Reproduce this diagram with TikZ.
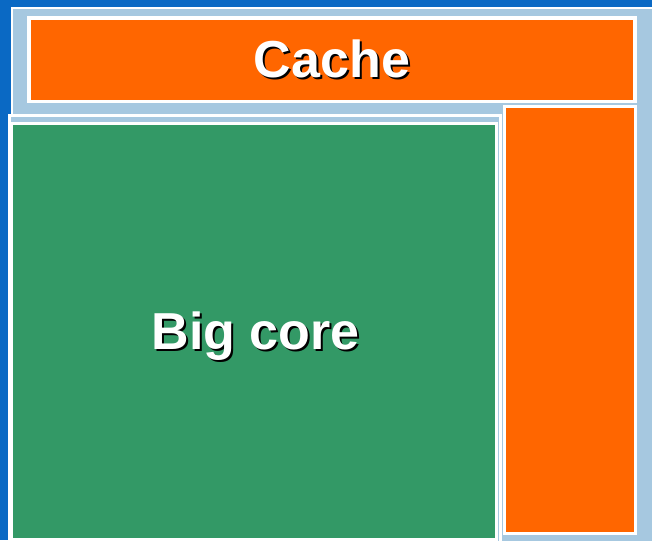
\documentclass[tikz,border=0pt]{standalone}
\usepackage{fontspec}
\setmainfont{Liberation Sans}
\usepackage{tikz}
\usetikzlibrary{positioning}

\definecolor{slideblue}{RGB}{10,105,196}
\definecolor{paleblue}{RGB}{166,200,224}
\definecolor{cacheorange}{RGB}{255,102,0}
\definecolor{coregreen}{RGB}{51,153,102}

\begin{document}
\begin{tikzpicture}[x=1pt, y=-1pt,
  block/.style={draw=white, rectangle, inner sep=0pt},
  bigtext/.style={font=\fontsize{52}{62}\selectfont\bfseries, inner sep=0pt, anchor=base},
  shadowtext/.style={bigtext, text=black, xshift=2pt, yshift=-2pt}]
\useasboundingbox (0,0) rectangle (652,540);
\clip (0,0) rectangle (652,540);

% Slide background
\fill [slideblue] (0,0) rectangle (652,540);
\node [block, line width=2pt, fill=paleblue, minimum width=658pt, minimum height=552pt]
	(panel) at (341,284) {};

% Cache
\node [block, line width=3.5pt, fill=cacheorange, minimum width=606pt, minimum height=83.7pt]
	(cache) at (332,59.85) {};
\node [block, line width=3pt, fill=cacheorange, minimum width=130.5pt, minimum height=426.5pt]
	(cachestrip) at (569.75,320.25) {};
\coordinate (cachebase) at (332,78);
\node [shadowtext] (cacheshadow) at (cachebase) {Cache};
\node [bigtext, text=white] (cachelabel) at (cachebase) {Cache};

% Big core
\node [block, line width=3pt, fill=paleblue, minimum width=491pt, minimum height=432.5pt]
	(coreframe) at (255,331.75) {};
\node [block, line width=3pt, fill=coregreen, minimum width=485pt, minimum height=416pt]
	(core) at (254,331.5) {};
\coordinate (corebase) at (255.5,349);
\node [shadowtext] (coreshadow) at (corebase) {Big core};
\node [bigtext, text=white] (corelabel) at (corebase) {Big core};
\end{tikzpicture}
\end{document}
